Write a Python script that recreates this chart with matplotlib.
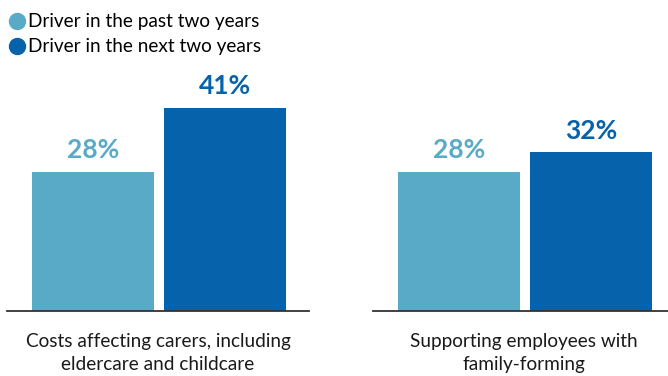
import matplotlib.pyplot as plt
from matplotlib.lines import Line2D

# Данные
categories = ["Costs affecting carers, including\neldercare and childcare",
              "Supporting employees with\nfamily-forming"]
series_names = ["Driver in the past two years", "Driver in the next two years"]
past = [28, 28]
upcoming = [41, 32]

colors = ["#59AAC7", "#0662AA"]

plt.rcParams['font.family'] = ['Lato', 'DejaVu Sans']

fig = plt.figure(figsize=(6.68, 3.76), dpi=100)

W, H = 668, 376
ax_w, ax_h = 302, 248
base_y = 311
lefts = [7, 373]

for i, cat in enumerate(categories):
    ax = fig.add_axes([lefts[i] / W, (H - base_y) / H, ax_w / W, ax_h / H])
    vals = [past[i], upcoming[i]]
    bars = ax.bar([0, 1], vals, width=0.924, color=colors)
    for b, v, c in zip(bars, vals, colors):
        ax.annotate(f"{v}%", (b.get_x() + b.get_width() / 2, v),
                    xytext=(0, 7), textcoords="offset points",
                    ha="center", va="bottom", fontsize=19, fontweight="bold", color=c)
    ax.set_xlim(-0.652, 1.636)
    ax.set_ylim(0, 50)
    for s in ["top", "right", "left"]:
        ax.spines[s].set_visible(False)
    ax.spines["bottom"].set_color("#333333")
    ax.spines["bottom"].set_linewidth(1.3)
    ax.set_xticks([])
    ax.set_yticks([])
    ax.text(0.5, -0.087, cat, transform=ax.transAxes, ha="center", va="top",
            fontsize=13.7, color="#1a1a1a", linespacing=1.45)

handles = [Line2D([], [], marker="o", linestyle="none", markersize=11.5,
                  markerfacecolor=c, markeredgecolor=c) for c in colors]
fig.legend(handles, series_names, loc="upper left", bbox_to_anchor=(-0.012, 1.0),
           frameon=False, fontsize=13.7, handletextpad=0.0, labelspacing=0.42,
           handlelength=1.2, borderaxespad=0.3)

fig.savefig("out.png", dpi=100)
